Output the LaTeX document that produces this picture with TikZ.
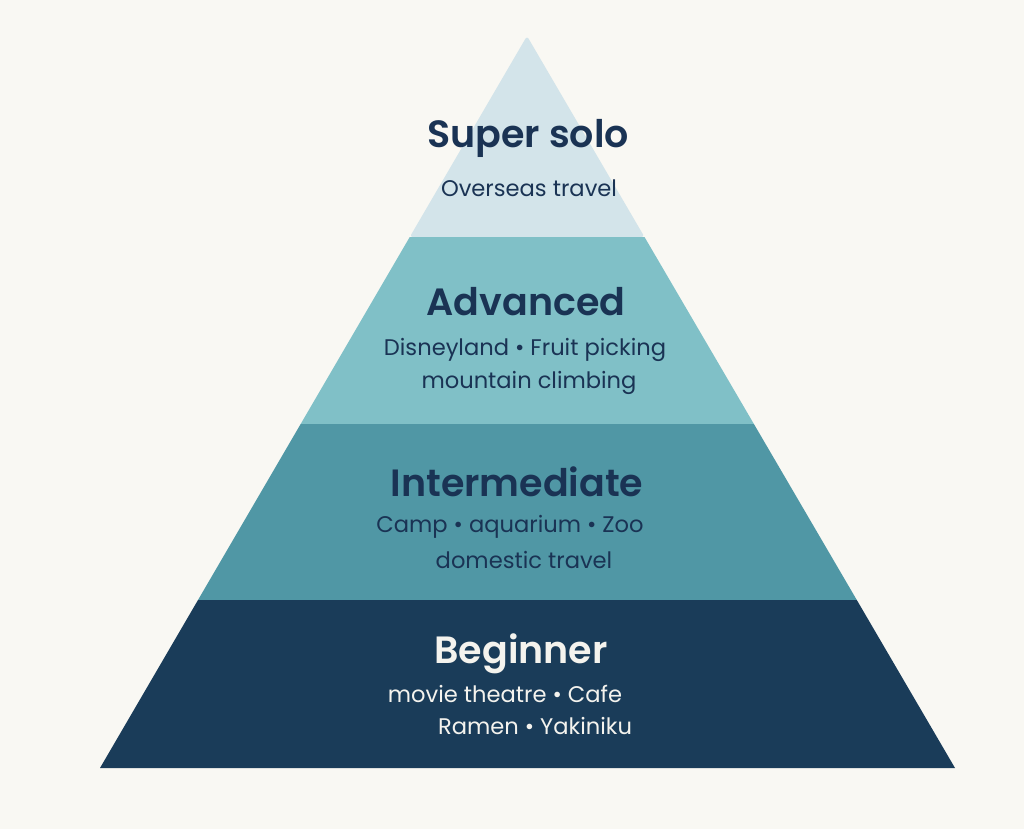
\documentclass[tikz,border=0pt]{standalone}
\usepackage{fontspec}
\setmainfont{Poppins}[BoldFont={Poppins SemiBold}]
\definecolor{bg}{HTML}{F9F8F3}
\definecolor{topc}{HTML}{D3E4EA}
\definecolor{advc}{HTML}{80C0C7}
\definecolor{intc}{HTML}{5097A5}
\definecolor{begc}{HTML}{1A3C59}
\definecolor{ink}{HTML}{1A3354}
\definecolor{paper}{HTML}{F4F3EE}
\tikzset{
  head/.style={font=\fontsize{38}{40}\selectfont\bfseries, text=ink, inner sep=0pt},
  body/.style={font=\fontsize{22.6}{26}\selectfont, text=ink, inner sep=0pt},
}
\begin{document}
\begin{tikzpicture}[x=1pt,y=-1pt]
\fill[bg] (0,0) rectangle (1024,829);
\useasboundingbox (0,0) rectangle (1024,829);
% layers
\fill[topc, rounded corners=3pt] (409.75,237) -- (527,36) -- (644.5,237) -- cycle;
\fill[advc] (300.67,424) -- (409.75,237) -- (644.5,237) -- (753.9,424) -- cycle;
\fill[intc] (198,600) -- (300.67,424) -- (753.9,424) -- (856.8,600) -- cycle;
\fill[begc] (100,768) -- (198,600) -- (856.8,600) -- (955,768) -- cycle;
% texts
\node[head] (t1) at (528,138) {Super solo};
\node[body] (t1a) at (529,188) {Overseas travel};
\node[head] (t2) at (526,302) {Advanced};
\node[body] (t2a) at (525,350) {Disneyland • Fruit picking};
\node[body] (t2b) at (529,383) {mountain climbing};
\node[head] (t3) at (517,482) {Intermediate};
\node[body] (t3a) at (510,527) {Camp • aquarium • Zoo};
\node[body] (t3b) at (524,560) {domestic travel};
\node[head, text=paper] (t4) at (521,654) {Beginner};
\node[body, text=paper] (t4a) at (505,694) {movie theatre • Cafe};
\node[body, text=paper] (t4b) at (535,726) {Ramen • Yakiniku};
\end{tikzpicture}
\end{document}
